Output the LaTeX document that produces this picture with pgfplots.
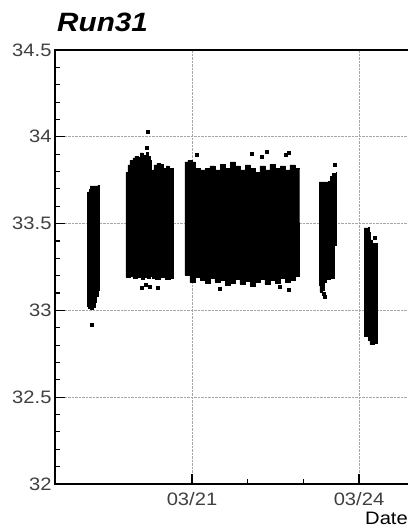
\documentclass[border=0pt]{standalone}
\usepackage{fontspec}
\setmainfont{Liberation Sans}[FakeStretch=1.12]
\usepackage{pgfplots}
\pgfplotsset{compat=1.18}
\begin{document}
\begin{tikzpicture}
\begin{axis}[
  name=ax,
  scale only axis,
  width=355pt, height=434pt,
  xmin=18.539, xmax=24.916,
  ymin=32, ymax=34.5,
  xtick={21,24}, xticklabels={03/21,03/24},
  minor x tick num=2,
  ytick={32,32.5,33,33.5,34,34.5},
  yticklabels={32,32.5,33,33.5,34,34.5},
  minor y tick num=4,
  tick align=inside,
  xtick pos=left, ytick pos=left,
  major tick length=10pt, minor tick length=5pt,
  every tick/.style={black, line width=1.1pt},
  axis line style={line width=1.6pt},
  grid=major,
  major grid style={densely dotted, gray!70, line width=0.7pt},
  tick label style={font=\fontsize{18}{20}\selectfont, text=black!75},
  xticklabel style={yshift=-5pt},
]
% cluster polygons (dense scatter regions)
\addplot[const plot, fill=black, draw=black, line width=0.6pt] coordinates {
(19.123,33.682) (19.150,33.699) (19.168,33.717) (19.311,33.722) (19.329,33.711) (19.329,33.117) (19.311,33.083) (19.276,33.048) (19.258,33.020) (19.222,33.008) (19.168,33.014) (19.132,33.025) (19.123,33.060)
} -- cycle;
\addplot[const plot, fill=black, draw=black, line width=0.6pt] coordinates {
(19.814,33.797) (19.850,33.838) (19.886,33.866) (19.940,33.878) (19.976,33.889) (20.030,33.884) (20.066,33.907) (20.120,33.895) (20.174,33.912) (20.210,33.889) (20.246,33.866) (20.276,33.849) (20.276,33.198) (20.246,33.187) (20.192,33.192) (20.138,33.181) (20.084,33.192) (20.012,33.187) (19.940,33.198) (19.886,33.192) (19.814,33.198)
} -- cycle;
\addplot[const plot, fill=black, draw=black, line width=0.6pt] coordinates {
(20.294,33.809) (20.317,33.838) (20.371,33.849) (20.425,33.843) (20.479,33.820) (20.533,33.832) (20.587,33.820) (20.664,33.820) (20.664,33.187) (20.605,33.181) (20.515,33.192) (20.425,33.181) (20.335,33.187) (20.294,33.192)
} -- cycle;
\addplot[const plot, fill=black, draw=black, line width=0.6pt] coordinates {
(20.874,33.855) (20.928,33.866) (21.000,33.855) (21.054,33.820) (21.144,33.809) (21.234,33.820) (21.323,33.832) (21.413,33.809) (21.503,33.843) (21.593,33.820) (21.683,33.855) (21.772,33.832) (21.862,33.809) (21.952,33.838) (22.042,33.820) (22.132,33.797) (22.221,33.832) (22.311,33.809) (22.401,33.843) (22.491,33.820) (22.581,33.832) (22.671,33.809) (22.760,33.838) (22.850,33.820) (22.922,33.809)
(22.922,33.198) (22.850,33.175) (22.760,33.164) (22.671,33.187) (22.581,33.158) (22.491,33.175) (22.401,33.152) (22.311,33.181) (22.221,33.164) (22.132,33.141) (22.042,33.169) (21.952,33.152) (21.862,33.181) (21.772,33.158) (21.683,33.146) (21.593,33.175) (21.503,33.164) (21.413,33.187) (21.323,33.158) (21.234,33.175) (21.144,33.192) (21.054,33.164) (20.964,33.204) (20.874,33.221)
} -- cycle;
\addplot[const plot, fill=black, draw=black, line width=0.6pt] coordinates {
(23.287,33.740) (23.443,33.745) (23.479,33.774) (23.515,33.791) (23.599,33.797) (23.599,33.377) (23.551,33.348) (23.551,33.187) (23.479,33.181) (23.407,33.164) (23.371,33.118) (23.335,33.106) (23.299,33.146) (23.287,33.187)
} -- cycle;
\addplot[const plot, fill=black, draw=black, line width=0.6pt] coordinates {
(24.090,33.475) (24.162,33.480) (24.179,33.452) (24.197,33.406) (24.233,33.388) (24.335,33.388) (24.335,32.812) (24.269,32.806) (24.197,32.830) (24.162,32.853) (24.090,32.858)
} -- cycle;
% isolated points
\addplot[only marks, mark=square*, mark size=1.5pt, black] coordinates {
(19.198,32.916) (20.210,34.028) (20.192,33.935) (20.096,33.131) (20.246,33.137) (20.377,33.129) (20.174,33.146)
(21.084,33.895) (22.072,33.905) (22.252,33.885) (22.342,33.914) (22.689,33.895) (22.730,33.907) (21.503,33.127) (22.730,33.118) (22.581,33.137)
(23.569,33.838) (23.359,33.098) (23.389,33.077) (24.287,33.417)
};
\end{axis}
\node[anchor=base west, inner sep=0pt, font=\fontsize{26.5}{30}\selectfont\bfseries\itshape] at ([xshift=2pt, yshift=18pt]ax.north west) {Run31};
\node[anchor=north east, inner sep=0pt, font=\fontsize{18}{20}\selectfont] at ([xshift=-2pt, yshift=-28pt]ax.south east) {Date};
\pgfresetboundingbox
\path[use as bounding box] ([xshift=-55pt, yshift=-45pt]ax.south west) rectangle ([xshift=-2pt, yshift=50pt]ax.north east);
\end{tikzpicture}
\end{document}
